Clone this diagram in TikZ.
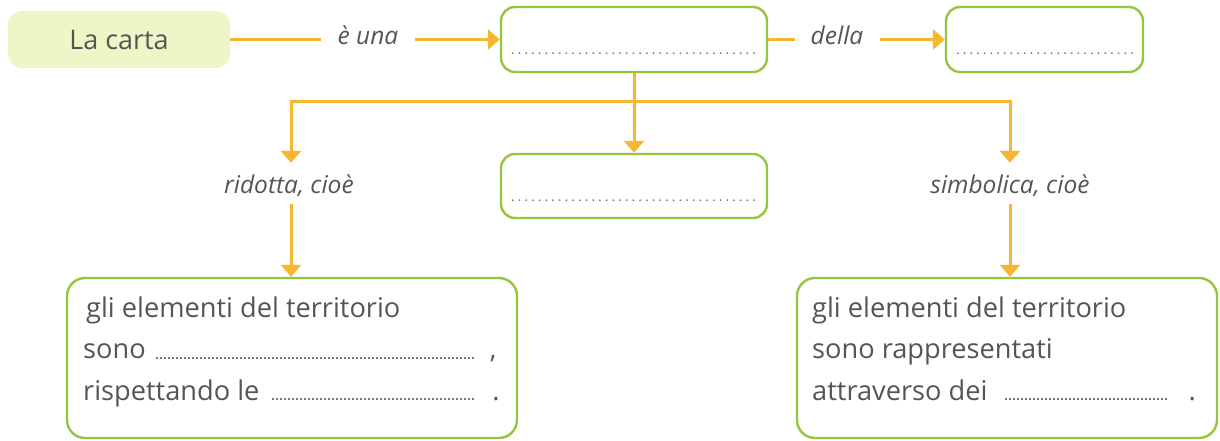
\documentclass[tikz,border=0pt]{standalone}
\usepackage{fontspec}
\setmainfont{Open Sans}
\usetikzlibrary{arrows.meta}
\definecolor{lime}{RGB}{150,198,62}
\definecolor{ora}{RGB}{246,182,48}
\definecolor{paleyel}{RGB}{238,246,200}
\definecolor{txt}{RGB}{88,84,86}
\definecolor{dotc}{RGB}{120,120,120}
\newcommand\blank[1]{{\color{dotc}\leaders\hbox to 4pt{\hss\rule{1.7pt}{1.7pt}\hss}\hskip#1\relax}}
\begin{document}
\begin{tikzpicture}[x=1pt,y=-1pt,
  every node/.style={text=txt},
  greenbox/.style={draw=lime, line width=2.4pt, rounded corners=14pt, fill=white, inner sep=0pt},
  conn/.style={draw=ora, line width=3pt},
  arr/.style={conn, -{Triangle[width=20pt,length=12pt]}},
  lbl/.style={font=\fontsize{24.5}{28}\selectfont\itshape, inner ysep=0pt},
  body/.style={font=\fontsize{27.2}{30}\selectfont, inner sep=0pt, anchor=base west},
  dots/.style={draw=dotc, line width=2pt, line cap=round, dash pattern=on 0pt off 6.7pt}]
\path[use as bounding box] (0,0) rectangle (1220,441);

% top row
\node[fill=paleyel, rounded corners=14pt, minimum width=222pt, minimum height=57pt, inner sep=0pt,
      font=\fontsize{27}{30}\selectfont] (carta) at (119,39.5) {La carta};
\node[lbl, anchor=base, inner xsep=16pt] (euna) at (368,45) {è una};
\node[greenbox, minimum width=266pt, minimum height=65pt] (box2) at (634,39.5) {};
\node[lbl, anchor=base, inner xsep=16pt] (della) at (837,45) {della};
\node[greenbox, minimum width=197pt, minimum height=65pt] (box3) at (1044.5,39.5) {};

% middle row
\node[greenbox, minimum width=266pt, minimum height=64pt] (box4) at (634,186) {};
\node[lbl, anchor=base, text height=30pt, text depth=11pt] (ridotta) at (289,193) {ridotta, cioè};
\node[lbl, anchor=base, text height=30pt, text depth=11pt] (simb) at (1010,193) {simbolica, cioè};

% bottom boxes
\node[greenbox, rounded corners=18pt, minimum width=450pt, minimum height=160pt] (box5) at (292,358) {};
\node[greenbox, rounded corners=18pt, minimum width=420pt, minimum height=160pt] (box6) at (1007,358) {};

\node[body] (l5a) at (86,317) {gli elementi del territorio};
\node[body] (l5b) at (83,358.5) {sono \hspace{2pt}\blank{321pt}\hspace{14pt},};
\node[body] (l5c) at (83,400) {rispettando le \hspace{2pt}\blank{207pt}\hspace{17pt}.};
\node[body] (l6a) at (812,317) {gli elementi del territorio};
\node[body] (l6b) at (812,358.5) {sono rappresentati};
\node[body] (l6c) at (812,400) {attraverso dei \hspace{9pt}\blank{168pt}\hspace{17pt}.};

% dotted blanks in boxes
\draw[dots] ([xshift=13pt,yshift=20pt]box2.south west) -- ([xshift=-12pt,yshift=20pt]box2.south east);
\draw[dots] ([xshift=13pt,yshift=20pt]box3.south west) -- ([xshift=-12pt,yshift=20pt]box3.south east);
\draw[dots] ([xshift=13pt,yshift=19pt]box4.south west) -- ([xshift=-12pt,yshift=19pt]box4.south east);

% connectors
\coordinate (j) at (634,102);
\coordinate (jl) at (291,102);
\coordinate (jr) at (1010,102);
\draw[conn] (carta.east) -- (carta.east -| euna.west);
\draw[arr] (carta.east -| euna.east) -- (box2.west);
\draw[conn] (box2.east) -- (box2.east -| della.west);
\draw[arr] (box2.east -| della.east) -- (box3.west);
\draw[arr] (box2.south) -- (box4.north);
\draw[arr] (j) -- (jl) -- (jl |- ridotta.north);
\draw[arr] (j) -- (jr) -- (simb.north);
\draw[arr] (jl |- ridotta.south) -- (jl |- box5.north);
\draw[arr] (simb.south) -- (simb.south |- box6.north);
\end{tikzpicture}
\end{document}
